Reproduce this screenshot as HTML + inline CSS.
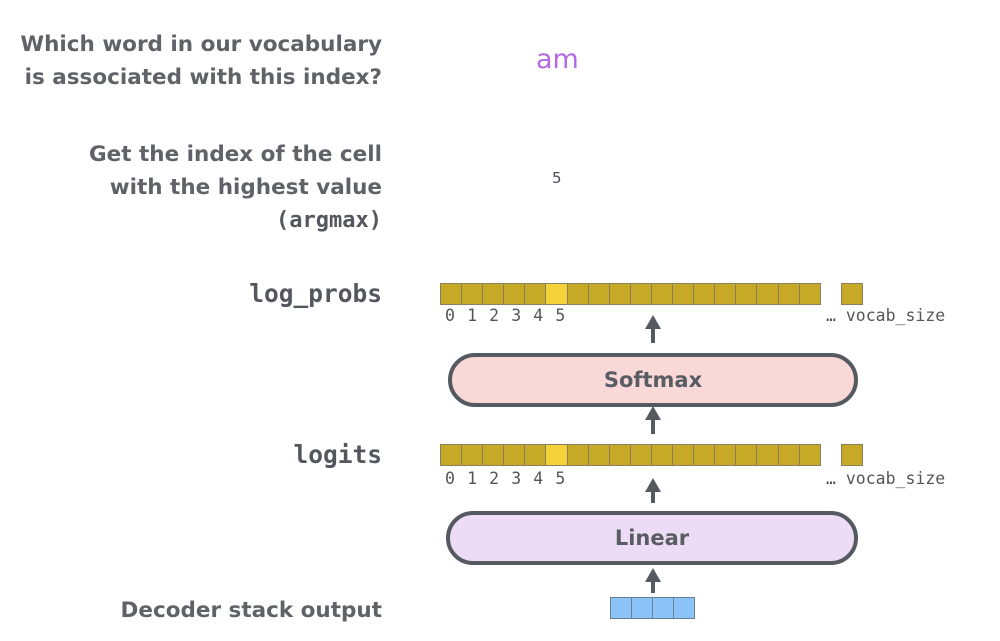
<!DOCTYPE html>
<html><head><style>
body{margin:0;width:1000px;height:641px;background:#fff;position:relative;overflow:hidden;font-family:"DejaVu Sans","Liberation Sans",sans-serif;color:#4d4f56}
.t{position:absolute;right:618px;text-align:right;font-size:21.5px;font-weight:bold;line-height:33px;white-space:nowrap;color:#606268}
.m{font-family:"DejaVu Sans Mono","Liberation Mono",monospace;font-weight:bold;font-size:24.5px;color:#55575e}
.row{position:absolute;left:441px;height:20px;display:flex}
.c{width:20.1px;height:20px;background:#c6a927;border:1px solid #8a8060;margin-left:-1px;flex:none}
.y{background:#f3d23a}
.nums{position:absolute;left:445px;font-family:"DejaVu Sans Mono","Liberation Mono",monospace;font-size:16.5px;color:#555}
.pill{position:absolute;border:4px solid #555a61;border-radius:30px;box-sizing:border-box;text-align:center;font-size:21px;font-weight:bold;color:#5a5c63}
</style></head><body>
<div class="t" style="top:28px">Which word in our vocabulary<br>is associated with this index?</div>
<div style="position:absolute;left:536px;top:44px;font-size:27px;color:#b36ae2">am</div>
<div class="t" style="top:138px">Get the index of the cell<br>with the highest value<br><span class="m" style="font-size:22px">(argmax)</span></div>
<div style="position:absolute;left:552px;top:169px;font-size:15px">5</div>
<div class="t m" style="top:277px">log_probs</div>
<div class="t m" style="top:438px">logits</div>
<div class="t" style="top:594px">Decoder stack output</div>

<div class="row" style="top:283px"><div class="c"></div><div class="c"></div><div class="c"></div><div class="c"></div><div class="c"></div><div class="c y"></div><div class="c"></div><div class="c"></div><div class="c"></div><div class="c"></div><div class="c"></div><div class="c"></div><div class="c"></div><div class="c"></div><div class="c"></div><div class="c"></div><div class="c"></div><div class="c"></div></div>
<div class="c" style="position:absolute;left:841px;top:283px;margin:0"></div>
<div class="nums" style="top:306px;letter-spacing:1.1px">0 1 2 3 4 5</div>
<div class="nums" style="top:306px;left:826px">… vocab_size</div>

<div class="row" style="top:444px"><div class="c"></div><div class="c"></div><div class="c"></div><div class="c"></div><div class="c"></div><div class="c y"></div><div class="c"></div><div class="c"></div><div class="c"></div><div class="c"></div><div class="c"></div><div class="c"></div><div class="c"></div><div class="c"></div><div class="c"></div><div class="c"></div><div class="c"></div><div class="c"></div></div>
<div class="c" style="position:absolute;left:841px;top:444px;margin:0"></div>
<div class="nums" style="top:469px;letter-spacing:1.1px">0 1 2 3 4 5</div>
<div class="nums" style="top:469px;left:826px">… vocab_size</div>

<div class="pill" style="left:448px;top:353px;width:410px;height:54px;line-height:46px;background:#f8d9d8">Softmax</div>
<div class="pill" style="left:446px;top:511px;width:412px;height:54px;line-height:46px;background:#eddcf5">Linear</div>

<div class="row" style="top:597px;left:611px"><div class="c" style="background:#8ac4f8;border-color:#6a7f94"></div><div class="c" style="background:#8ac4f8;border-color:#6a7f94"></div><div class="c" style="background:#8ac4f8;border-color:#6a7f94"></div><div class="c" style="background:#8ac4f8;border-color:#6a7f94"></div></div>

<svg width="1000" height="641" style="position:absolute;left:0;top:0">
<g fill="#555a61" stroke="#555a61" stroke-width="4">
<line x1="653" y1="343" x2="653" y2="325"/><polygon points="645,329 661,329 653,315" stroke="none"/>
<line x1="653" y1="434" x2="653" y2="416"/><polygon points="645,420 661,420 653,406" stroke="none"/>
<line x1="653" y1="503" x2="653" y2="488"/><polygon points="645,492 661,492 653,478" stroke="none"/>
<line x1="653" y1="593" x2="653" y2="578"/><polygon points="645,582 661,582 653,568" stroke="none"/>
</g></svg>
</body></html>
